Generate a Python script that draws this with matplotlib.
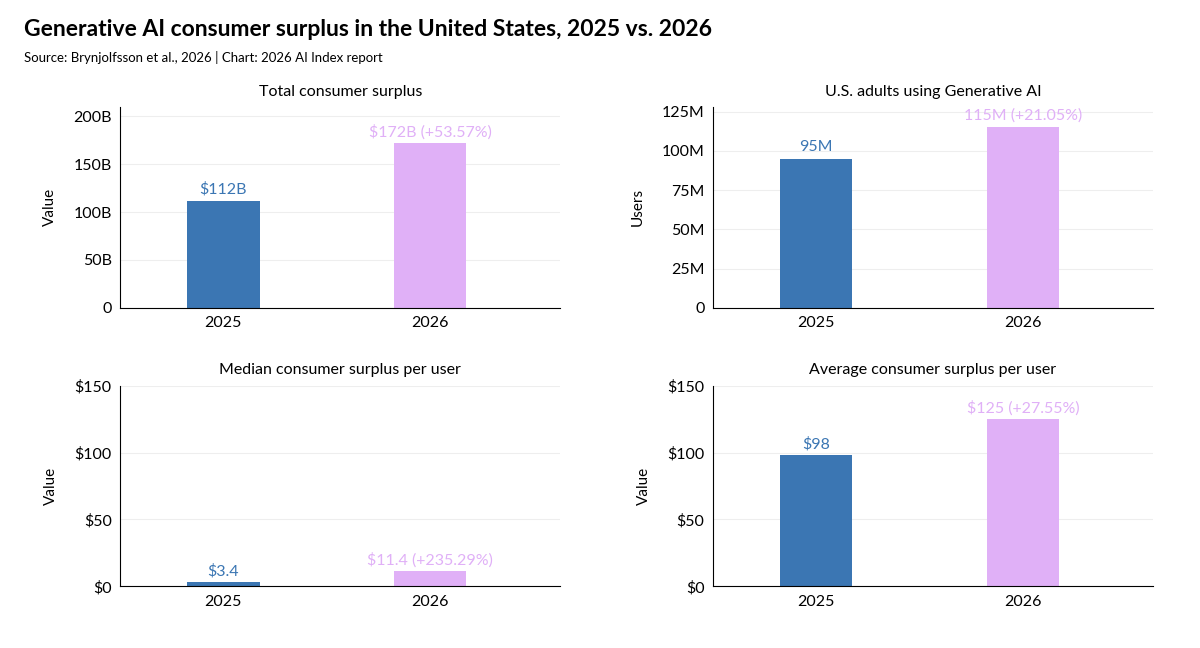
import matplotlib.pyplot as plt
from matplotlib.ticker import FuncFormatter

years = ["2025", "2026"]
total_surplus = [112, 172]          # billions
adults = [95, 115]                  # millions
median_user = [3.4, 11.4]
average_user = [98, 125]

total_labels = ["$112B", "$172B (+53.57%)"]
adult_labels = ["95M", "115M (+21.05%)"]
median_labels = ["$3.4", "$11.4 (+235.29%)"]
average_labels = ["$98", "$125 (+27.55%)"]

BLUE = "#3b76b3"
PINK = "#e0b0f7"
plt.rcParams['font.family'] = ['Lato', 'DejaVu Sans']

fig = plt.figure(figsize=(12, 6.48), dpi=100)
fig.text(0.02, 0.945, "Generative AI consumer surplus in the United States, 2025 vs. 2026",
         fontsize=16.5, fontweight='bold')
fig.text(0.02, 0.905, "Source: Brynjolfsson et al., 2026 | Chart: 2026 AI Index report", fontsize=9.5)

W = 0.367
panels = [
    ([0.10, 0.525, W, 0.31], total_surplus, total_labels, "Total consumer surplus", "Value",
     (0, 210), [0, 50, 100, 150, 200], lambda v, p: "0" if v == 0 else f"{v:.0f}B", 4),
    ([0.594, 0.525, W, 0.31], adults, adult_labels, "U.S. adults using Generative AI", "Users",
     (0, 128), [0, 25, 50, 75, 100, 125], lambda v, p: "0" if v == 0 else f"{v:.0f}M", 3),
    ([0.10, 0.095, W, 0.31], median_user, median_labels, "Median consumer surplus per user", "Value",
     (0, 150), [0, 50, 100, 150], lambda v, p: f"${v:.0f}", 2.5),
    ([0.594, 0.095, W, 0.31], average_user, average_labels, "Average consumer surplus per user", "Value",
     (0, 150), [0, 50, 100, 150], lambda v, p: f"${v:.0f}", 2.5),
]

for rect, vals, labels, title, ylab, ylim, ticks, fmt, off in panels:
    ax = fig.add_axes(rect)
    ax.bar(range(2), vals, width=0.35, color=[BLUE, PINK], zorder=2)
    for i, (v, lab) in enumerate(zip(vals, labels)):
        ax.text(i, v + off, lab, ha='center', va='bottom', fontsize=11.5,
                color=[BLUE, PINK][i])
    ax.set_xlim(-0.5, 1.63)
    ax.set_ylim(*ylim)
    ax.set_yticks(ticks)
    ax.yaxis.set_major_formatter(FuncFormatter(fmt))
    ax.set_xticks(range(2))
    ax.set_xticklabels(years)
    ax.tick_params(labelsize=11.5, length=0, pad=6)
    ax.set_title(title, fontsize=11.5, pad=8)
    ax.set_ylabel(ylab, fontsize=11, labelpad=12)
    ax.grid(axis='y', color='#eeeeee', lw=0.8, zorder=0)
    for s in ['top', 'right']:
        ax.spines[s].set_visible(False)

fig.savefig("out.png", dpi=100)
